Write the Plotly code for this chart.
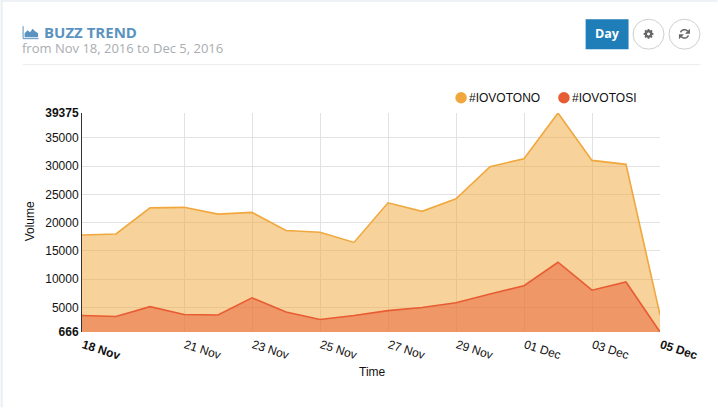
import math
import plotly.graph_objects as go

dates = ["2016-11-18","2016-11-19","2016-11-20","2016-11-21","2016-11-22","2016-11-23","2016-11-24","2016-11-25","2016-11-26",
         "2016-11-27","2016-11-28","2016-11-29","2016-11-30","2016-12-01","2016-12-02","2016-12-03","2016-12-04","2016-12-05"]
iovotono = [17800,18000,22600,22700,21500,21800,18600,18300,16500,23500,22000,24200,29900,31300,39375,31000,30300,3700]
iovotosi = [3570,3400,5150,3750,3660,6700,4190,2870,3570,4450,5000,5850,7400,8850,13000,8050,9500,666]
x_tick_vals = ["2016-11-18","2016-11-21","2016-11-23","2016-11-25","2016-11-27","2016-11-29","2016-12-01","2016-12-03","2016-12-05"]
x_tick_text = ["<b>18 Nov</b>","21 Nov","23 Nov","25 Nov","27 Nov","29 Nov","01 Dec","03 Dec","<b>05 Dec</b>"]
y_tick_vals = [666,5000,10000,15000,20000,25000,30000,35000,39375]
y_tick_text = ["<b>666</b>","5000","10000","15000","20000","25000","30000","35000","<b>39375</b>"]

W, H = 718, 408
L, R, T, B = 81.5, 660.5, 113, 332.5
px = lambda x: (x - L) / (R - L)
py = lambda y: (B - y) / (B - T)

fig = go.Figure()
fig.add_trace(go.Scatter(x=dates, y=iovotono, mode="lines", name="#IOVOTONO", fill="tozeroy",
                         line=dict(color="#F0A83E", width=1.6), fillcolor="rgba(240,168,62,0.52)", showlegend=False))
fig.add_trace(go.Scatter(x=dates, y=iovotosi, mode="lines", name="#IOVOTOSI", fill="tozeroy",
                         line=dict(color="#E85C33", width=1.6), fillcolor="rgba(232,92,51,0.5)", showlegend=False))

def gear_path(cx, cy, r_out, r_in, hole, teeth=8):
    pts = []
    step = 2 * math.pi / teeth
    for i in range(teeth):
        a = i * step
        for da, r in ((-0.30, r_in), (-0.17, r_out), (0.17, r_out), (0.30, r_in)):
            pts.append((cx + r * math.cos(a + da), cy + r * math.sin(a + da)))
    d = "M " + " L ".join(f"{px(x)} {py(y)}" for x, y in pts) + " Z "
    ring = [(cx + hole * math.cos(k * math.pi / 6), cy + hole * math.sin(k * math.pi / 6)) for k in range(12, 0, -1)]
    d += "M " + " L ".join(f"{px(x)} {py(y)}" for x, y in ring) + " Z"
    return d

def arc_path(cx, cy, r, a0, a1, n=10):
    pts = [(cx + r * math.cos(math.radians(a0 + (a1 - a0) * k / n)), cy + r * math.sin(math.radians(a0 + (a1 - a0) * k / n))) for k in range(n + 1)]
    return "M " + " L ".join(f"{px(x)} {py(y)}" for x, y in pts)

def tri_path(points):
    return "M " + " L ".join(f"{px(x)} {py(y)}" for x, y in points) + " Z"

shapes = [
    dict(type="rect", xref="paper", yref="paper", x0=px(0), x1=px(2), y0=py(0), y1=py(408), fillcolor="#E9EEF3", line_width=0, layer="below"),
    dict(type="rect", xref="paper", yref="paper", x0=px(0), x1=px(718), y0=py(0), y1=py(1.5), fillcolor="#E9EEF3", line_width=0, layer="below"),
    dict(type="line", xref="paper", yref="paper", x0=px(22), x1=px(701), y0=py(64.5), y1=py(64.5), line=dict(color="#E9EDF1", width=1)),
    dict(type="rect", xref="paper", yref="paper", x0=px(586), x1=px(629), y0=py(19), y1=py(49), fillcolor="#1F7DB8", line_width=0),
    dict(type="circle", xref="paper", yref="paper", x0=px(633.5), x1=px(664.5), y0=py(19), y1=py(49), fillcolor="white", line=dict(color="#CFCFCF", width=1)),
    dict(type="circle", xref="paper", yref="paper", x0=px(669.5), x1=px(700.5), y0=py(19), y1=py(49), fillcolor="white", line=dict(color="#CFCFCF", width=1)),
    dict(type="path", xref="paper", yref="paper", fillcolor="#666666", line_width=0, path=gear_path(649, 33.7, 5.0, 3.8, 1.5)),
    dict(type="path", xref="paper", yref="paper", line=dict(color="#666666", width=1.5), path=arc_path(685, 33.7, 4.2, 200, 320)),
    dict(type="path", xref="paper", yref="paper", line=dict(color="#666666", width=1.5), path=arc_path(685, 33.7, 4.2, 20, 140)),
    dict(type="path", xref="paper", yref="paper", fillcolor="#666666", line_width=0, path=tri_path([(690.5, 28.5), (690.5, 33.5), (685.5, 33.5)])),
    dict(type="path", xref="paper", yref="paper", fillcolor="#666666", line_width=0, path=tri_path([(679.5, 39), (679.5, 34), (684.5, 34)])),
    dict(type="circle", xref="paper", yref="paper", x0=px(455.5), x1=px(467), y0=py(92), y1=py(103.5), fillcolor="#F0A83E", line_width=0),
    dict(type="circle", xref="paper", yref="paper", x0=px(558.5), x1=px(570), y0=py(92), y1=py(103.5), fillcolor="#E85C33", line_width=0),
    # area-chart icon
    dict(type="path", xref="paper", yref="paper", line=dict(color="#5B93C0", width=1),
         path=f"M {px(22.5)} {py(26)} L {px(22.5)} {py(38.5)} L {px(38)} {py(38.5)}"),
    dict(type="path", xref="paper", yref="paper", fillcolor="#5B93C0", line_width=0,
         path=f"M {px(24)} {py(37)} L {px(24)} {py(33)} L {px(27)} {py(30)} L {px(29.5)} {py(32)} L {px(32)} {py(28.5)} L {px(34.5)} {py(31)} L {px(37.5)} {py(33)} L {px(37.5)} {py(37)} Z"),
]

def note(x, y, text, size, color, family="Liberation Sans", anchor="left", height=None):
    return dict(xref="paper", yref="paper", x=px(x), y=py(y), text=text, showarrow=False, xanchor=anchor, yanchor="middle",
                height=height, borderpad=0, font=dict(size=size, color=color, family=family))

annotations = [
    note(42.5, 31.5, "<b>BUZZ TREND</b>", 15, "#5B93C0", "Open Sans", height=14),
    note(20.5, 47.5, "from Nov 18, 2016 to Dec 5, 2016", 13, "#A9ADB1", "Open Sans", height=14),
    note(607.5, 33.5, "<b>Day</b>", 12.5, "white", "Open Sans", "center"),
    note(468.5, 97.5, "#IOVOTONO", 12, "#111111"),
    note(571.5, 97.5, "#IOVOTOSI", 12, "#111111"),
    note(372.5, 372.5, "Time", 12, "#111111", anchor="center"),
    dict(xref="paper", yref="paper", x=px(29), y=py(222), text="Volume", textangle=-90, showarrow=False,
         font=dict(size=12, color="#111111", family="Liberation Sans"), xanchor="center", yanchor="middle"),
]

fig.update_layout(
    width=W, height=H, autosize=False,
    margin=dict(l=L, r=W - R, t=T, b=H - B, pad=0),
    paper_bgcolor="white", plot_bgcolor="white",
    font=dict(family="Liberation Sans", size=12, color="#111111"),
    shapes=shapes, annotations=annotations, showlegend=False,
    xaxis=dict(type="date", range=[dates[0], dates[-1]], tickmode="array", tickvals=x_tick_vals, ticktext=x_tick_text,
               tickangle=18, showgrid=True, gridcolor="#E2E2E2", gridwidth=1, ticks="", zeroline=False, showline=False,
               ticklabelstandoff=3, ticklabelshift=1, tickfont=dict(size=12, color="#111111")),
    yaxis=dict(range=[666, 39375], tickmode="array", tickvals=y_tick_vals, ticktext=y_tick_text, showgrid=True,
               gridcolor="#E2E2E2", gridwidth=1, ticks="", zeroline=False, showline=True, linecolor="#333333", linewidth=1,
               tickfont=dict(size=12, color="#111111")),
)

fig.write_html("out.html", config=dict(displayModeBar=False),
               post_script="document.body.style.margin='0';")
